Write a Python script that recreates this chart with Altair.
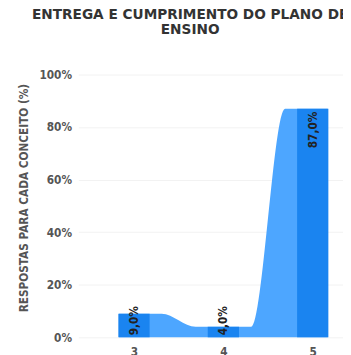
import altair as alt
import pandas as pd

categories = [3, 4, 5]
values = [9.0, 4.0, 87.0]
labels = ["9,0%", "4,0%", "87,0%"]
y_ticks = [0, 20, 40, 60, 80, 100]

df = pd.DataFrame({"cat": categories, "value": values, "label": labels})

FONT = "DejaVu Sans Condensed, DejaVu Sans"
TITLE_FONT = "DejaVu Sans"
AREA = "#4da6ff"
BAR = "#1a84f0"

x_scale = alt.Scale(domain=[2.432, 5.284], nice=False, zero=False)
y_scale = alt.Scale(domain=[0, 100], nice=False)

base = alt.Chart(df)

area = base.transform_joinaggregate(
    cmin="min(cat)", cmax="max(cat)"
).transform_calculate(
    lo="max(datum.cat - 0.31, datum.cmin - 0.168)",
    hi="min(datum.cat + 0.31, datum.cmax + 0.168)",
).transform_fold(["lo", "hi"], as_=["edge", "xpos"]).mark_area(
    interpolate="monotone", color=AREA
).encode(
    x=alt.X("xpos:Q", scale=x_scale,
            axis=alt.Axis(values=categories, format="d", title=None, grid=False,
                          ticks=False, domain=False, labelFontSize=12,
                          labelFont=FONT, labelFontWeight="bold",
                          labelColor="#555", labelPadding=10)),
    y=alt.Y("value:Q", scale=y_scale,
            axis=alt.Axis(values=y_ticks, labelExpr="datum.value + '%'",
                          title="RESPOSTAS PARA CADA CONCEITO (%)",
                          titleFont=FONT, titleFontSize=12, titleFontWeight="bold",
                          titleColor="#555", titleX=-56, titleY=126,
                          titleAlign="center", titleBaseline="middle",
                          labelFont=FONT, labelFontSize=12, labelFontWeight="bold",
                          labelColor="#555", labelPadding=7, ticks=False,
                          domain=False, gridColor="#f2f2f2")),
)

bars = base.mark_bar(width=32, color=BAR).encode(
    x=alt.X("cat:Q", scale=x_scale),
    y=alt.Y("value:Q", scale=y_scale),
)

text = base.transform_calculate(ly="max(datum.value, 13)").mark_text(
    angle=270, align="right", baseline="middle", dx=-3,
    font=FONT, fontSize=12, fontWeight="bold", color="#222"
).encode(
    x=alt.X("cat:Q", scale=x_scale),
    y=alt.Y("ly:Q", scale=y_scale),
    text="label:N",
)

chart = alt.layer(area, bars, text).properties(
    width=271, height=269,
    title=alt.TitleParams(
        text=["ENTREGA E CUMPRIMENTO DO PLANO DE", "ENSINO"],
        font=TITLE_FONT, fontSize=14, fontWeight="bold", color="#333",
        anchor="middle", dx=-21, offset=33, lineHeight=15,
    ),
    autosize=alt.AutoSizeParams(type="none"),
    padding={"left": 72, "top": 64, "right": 0, "bottom": 14},
).configure_view(stroke=None)

chart.save("out.html", embed_options={"renderer": "svg", "actions": False})
